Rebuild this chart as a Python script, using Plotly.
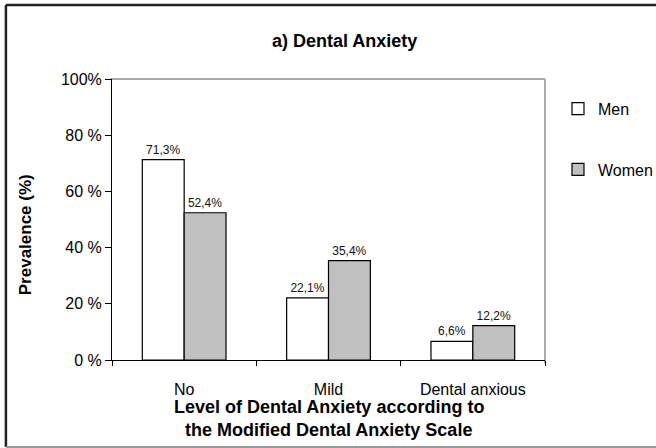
import plotly.graph_objects as go

categories = ["No", "Mild", "Dental anxious"]
men = [71.3, 22.1, 6.6]
women = [52.4, 35.4, 12.2]
men_labels = ["71,3%", "22,1%", "6,6%"]
women_labels = ["52,4%", "35,4%", "12,2%"]
y_ticks = [0, 20, 40, 60, 80, 100]
y_ticktext = ["0 %", "20 %", "40 %", "60 %", "80 %", "100%"]

font = "Liberation Sans, Arial, sans-serif"

fig = go.Figure()
fig.add_trace(go.Bar(
    x=categories, y=men, name="Men", legendgroup="men",
    text=men_labels, textposition="outside", cliponaxis=False,
    textfont=dict(size=12, color="#111"),
    marker=dict(color="white", line=dict(color="black", width=1.2)),
))
fig.add_trace(go.Bar(
    x=categories, y=women, name="Women", legendgroup="women",
    text=women_labels, textposition="outside", cliponaxis=False,
    textfont=dict(size=12, color="#111"),
    marker=dict(color="#c0c0c0", line=dict(color="black", width=1.2)),
))

fig.update_layout(
    width=656, height=448,
    margin=dict(l=112, r=111, t=79, b=88, autoexpand=False),
    paper_bgcolor="white", plot_bgcolor="white",
    font=dict(family=font, size=16, color="black"),
    barmode="group", bargap=0.42, bargroupgap=0,
    legend=dict(x=1.03, y=0.955, xanchor="left", yanchor="top",
                tracegroupgap=37, itemwidth=30,
                font=dict(size=16)),
    showlegend=True,
)

fig.update_xaxes(
    range=[-0.5, 2.5], tickson="boundaries", ticks="outside", ticklen=5,
    tickcolor="black", showline=True, linecolor="black", linewidth=1,
    showgrid=False, tickfont=dict(size=16), ticklabelstandoff=15,
)
fig.update_yaxes(
    range=[0, 100], tickvals=y_ticks, ticktext=y_ticktext,
    ticks="outside", ticklen=6, tickcolor="black",
    showline=True, linecolor="black", linewidth=1,
    showgrid=False, zeroline=False, tickfont=dict(size=16),
)

# titles
fig.add_annotation(text="<b>a) Dental Anxiety</b>", xref="paper", yref="paper",
                   x=0.538, y=1.135, xanchor="center", yanchor="middle",
                   showarrow=False, font=dict(size=18))
fig.add_annotation(text="<b>Prevalence (%)</b>", xref="paper", yref="paper",
                   x=-0.199, y=0.447, xanchor="center", yanchor="middle",
                   textangle=-90, showarrow=False, font=dict(size=17))
fig.add_annotation(text="<b>Level of Dental Anxiety according to</b>", xref="paper", yref="paper",
                   x=0.5, y=-0.167, xanchor="center", yanchor="middle",
                   showarrow=False, font=dict(size=18))
fig.add_annotation(text="<b>the Modified Dental Anxiety Scale</b>", xref="paper", yref="paper",
                   x=0.5, y=-0.249, xanchor="center", yanchor="middle",
                   showarrow=False, font=dict(size=18))

# gray plot frame (top and right)
fig.add_shape(type="line", xref="paper", yref="paper", x0=-0.005, x1=1.0, y0=1, y1=1,
              line=dict(color="#aaaaaa", width=2), layer="below")
fig.add_shape(type="line", xref="paper", yref="paper", x0=1.0, x1=1.0, y0=-0.012, y1=1,
              line=dict(color="#aaaaaa", width=2), layer="below")

# outer figure frame
fig.add_shape(type="line", xref="paper", yref="paper", x0=-0.245, x1=-0.245, y0=-0.31, y1=1.263,
              line=dict(color="#222222", width=2.5))
fig.add_shape(type="line", xref="paper", yref="paper", x0=-0.245, x1=1.3, y0=1.263, y1=1.263,
              line=dict(color="#222222", width=2.5))
fig.add_shape(type="line", xref="paper", yref="paper", x0=-0.245, x1=1.3, y0=-0.31, y1=-0.31,
              line=dict(color="#999999", width=2))

fig.write_html("out.html", config={"displayModeBar": False},
               post_script="document.body.style.margin='0';")
